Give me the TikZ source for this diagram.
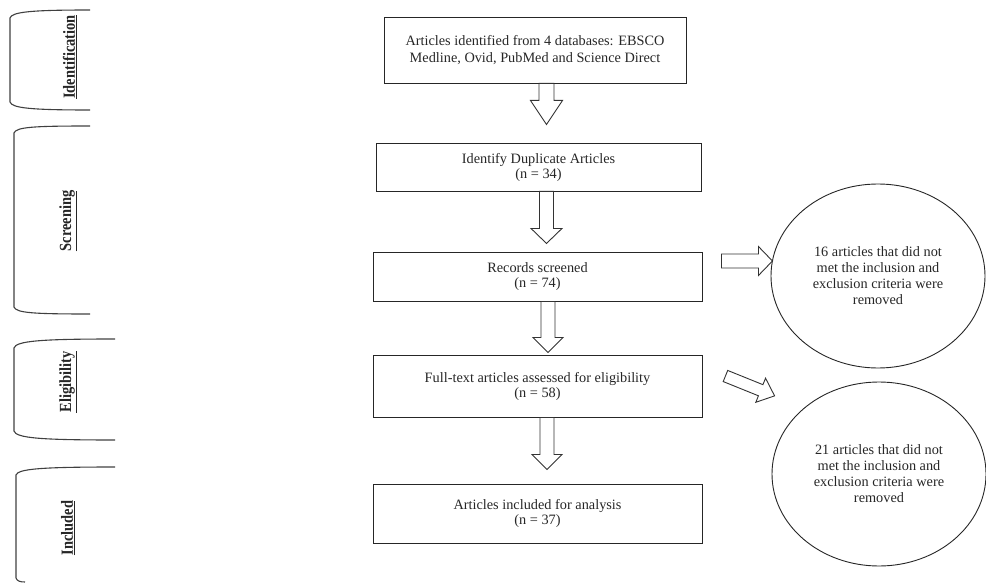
\documentclass[tikz,border=0pt]{standalone}
\usepackage{fontspec}
\setmainfont{Liberation Serif}
\usetikzlibrary{shapes.geometric, positioning}

\begin{document}
\begin{tikzpicture}[
    % GLOBAL CFG
    x=1pt, y=-1pt,
    font=\fontsize{14.3}{15}\selectfont,
    % Styles
    stage/.style={% For the boxes of the flow
        rectangle,
        draw=black!85,
        line width=0.9pt,
        align=center,
        inner sep=0pt,
        text=black!85,
        },
    removed/.style={% For the excluded articles
        ellipse,
        draw=black!85,
        line width=0.9pt,
        align=center,
        inner sep=0pt,
        text=black!85,
        font=\fontsize{14.3}{16}\selectfont,
        minimum width=214pt,
        minimum height=184pt,
        },
    phase/.style={% The brackets on the left
        draw=black!75,
        line width=1.1pt,
        },
    phaselabel/.style={% Rotated phase names
        rotate=90,
        inner sep=0pt,
        text=black!85,
        font=\fontsize{17}{20}\selectfont\bfseries,
        },
    hollowline/.style={% Outline of the block arrows
        draw=black!80,
        line width=0.9pt,
        line join=miter,
        },
    pics/hollowarrow/.style n args={4}{code={% shaft, head, half shaft, half head
        \draw[hollowline] (0,-#3) -- (#1,-#3) -- (#1,-#4) -- ({#1+#2},0)
            -- (#1,#4) -- (#1,#3) -- (0,#3) -- cycle;
        }},
    ]

\useasboundingbox (0,0) rectangle (986,583);

    % Draw the phases on the left
    \draw[phase] (90,10) .. controls (30,10) and (12,12) .. (10,18) -- (10,102)
        .. controls (12,108) and (30,110) .. (90,110);
    \draw[phase] (90,126) .. controls (34,126) and (16,127) .. (14,133) -- (14,307)
        .. controls (16,313) and (34,314) .. (90,314);
    \draw[phase] (115,339) .. controls (40,339) and (16,341) .. (14,348) -- (14,431)
        .. controls (16,438) and (40,440) .. (115,440);
    \draw[phase] (115,467) .. controls (40,467) and (18,469) .. (16,475) -- (16,578)
        .. controls (17,581) and (20,582) .. (25,582);

    \node[phaselabel] (lblident) at (70,57) {\scalebox{0.85}[1]{\underline{Identification}}};
    \node[phaselabel] (lblscreen) at (68,221) {\scalebox{0.85}[1]{\underline{Screening}}};
    \node[phaselabel] (lblelig) at (68,382) {\scalebox{0.85}[1]{\underline{Eligibility}}};
    \node[phaselabel] (lblincl) at (68,528) {\scalebox{0.85}[1]{\underline{Included}}};

    % Draw the boxes
    \node[stage, minimum width=302pt, minimum height=66pt,
        font=\fontsize{14.3}{16.7}\selectfont] (ident) at (535,50)
        {Articles identified from 4 databases: EBSCO\\Medline, Ovid, PubMed and Science Direct};
    \node[stage, minimum width=325pt, minimum height=48pt] (dupl) at (538.5,167)
        {Identify Duplicate Articles\\(n = 34)};
    \node[stage, minimum width=329pt, minimum height=49pt] (screen) at (537.5,276.5)
        {Records screened\\(n = 74)};
    \node[stage, minimum width=329pt, minimum height=62pt] (fulltext) at (537.5,386)
        {Full-text articles assessed for eligibility\\(n = 58)};
    \node[stage, minimum width=329pt, minimum height=59pt] (incl) at (537.5,513.5)
        {Articles included for analysis\\(n = 37)};

    % Draw the removed articles
    \node[removed] (excl1) at (878,276)
        {16 articles that did not\\met the inclusion and\\exclusion criteria were\\removed};
    \node[removed] (excl2) at (879,474)
        {21 articles that did not\\met the inclusion and\\exclusion criteria were\\removed};

% Start connecting all.
    % Down arrows
    \pic[rotate=-90] at ([xshift=11.5pt]ident.south) {hollowarrow={17}{24}{7.5}{16}};
    \pic[rotate=-90] at ([xshift=8pt]dupl.south) {hollowarrow={37}{15}{7}{15.5}};
    \pic[rotate=-90] at ([xshift=10.5pt]screen.south) {hollowarrow={36}{15}{7}{15}};
    \pic[rotate=-90] at ([xshift=9.5pt]fulltext.south) {hollowarrow={37}{15}{7}{15}};

    % Side arrows
    \pic at ([xshift=19pt, yshift=15.5pt]screen.east) {hollowarrow={37}{14}{7}{14.5}};
    \pic[rotate=-22] at ([xshift=23pt, yshift=10pt]fulltext.east) {hollowarrow={38}{15}{6}{13}};

\end{tikzpicture}
\end{document}
